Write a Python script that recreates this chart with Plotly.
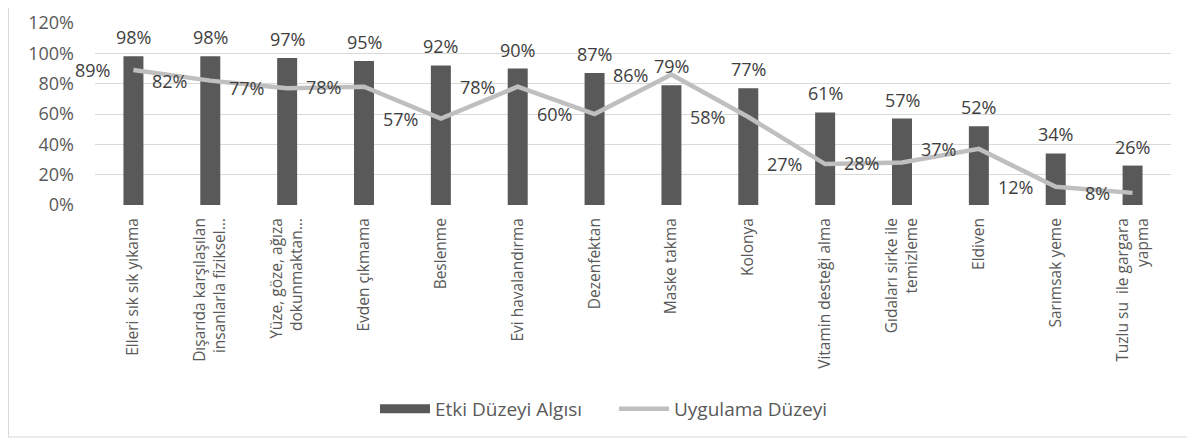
import plotly.graph_objects as go

categories = [
    "Elleri sık sık yıkama",
    "Dışarıda karşılaşılan<br>insanlarla fiziksel...",
    "Yüze, göze, ağıza<br>dokunmaktan...",
    "Evden çıkmama",
    "Beslenme",
    "Evi havalandırma",
    "Dezenfektan",
    "Maske takma",
    "Kolonya",
    "Vitamin desteği alma",
    "Gıdaları sirke ile<br>temizleme",
    "Eldiven",
    "Sarımsak yeme",
    "Tuzlu su  ile gargara<br>yapma",
]
etki = [98, 98, 97, 95, 92, 90, 87, 79, 77, 61, 57, 52, 34, 26]
uygulama = [89, 82, 77, 78, 57, 78, 60, 86, 58, 27, 28, 37, 12, 8]
y_ticks = [0, 20, 40, 60, 80, 100, 120]

FONT = "Open Sans"
BAR_COLOR = "#595959"
LINE_COLOR = "#BFBFBF"
TEXT_COLOR = "#404040"
AXIS_TEXT = "#595959"

fig = go.Figure()
fig.add_trace(go.Bar(
    x=categories, y=etki, name="Etki Düzeyi Algısı", showlegend=False,
    marker=dict(color=BAR_COLOR, line=dict(width=0)),
))
# legend entry with a wide swatch for the bars
fig.add_trace(go.Scatter(
    x=[None], y=[None], name="Etki Düzeyi Algısı", mode="lines",
    line=dict(color=BAR_COLOR, width=9),
))
fig.add_trace(go.Scatter(
    x=categories, y=uygulama, name="Uygulama Düzeyi", mode="lines",
    line=dict(color=LINE_COLOR, width=4.5),
))

annotations = []
for c, v in zip(categories, etki):
    annotations.append(dict(
        x=c, y=v, text=f"{v}%", showarrow=False, xref="x", yref="y",
        yanchor="middle", xanchor="center", yshift=19,
        font=dict(family=FONT, size=18, color=TEXT_COLOR),
    ))
for c, v in zip(categories, uygulama):
    annotations.append(dict(
        x=c, y=v, text=f"{v}%", showarrow=False, xref="x", yref="y",
        yanchor="middle", xanchor="right", xshift=-21,
        font=dict(family=FONT, size=18, color=TEXT_COLOR),
    ))

# page has an 8px body margin, so figure coords = page coords - 8
OFF = 8
W, H = 1195 - OFF, 439 - OFF
L, R, T, B = 95 - OFF, 24, 23 - OFF, 234
pw, ph = W - L - R, H - T - B


def px_x(p):
    return (p - OFF - L) / pw


def px_y(p):
    return (H - B - (p - OFF)) / ph


fig.update_layout(
    width=W, height=H,
    margin=dict(l=L, r=R, t=T, b=B, autoexpand=False),
    paper_bgcolor="white", plot_bgcolor="white",
    font=dict(family=FONT, color=AXIS_TEXT),
    bargap=0.74,
    showlegend=True,
    legend=dict(
        orientation="h", x=px_x(375), xanchor="left", y=px_y(409), yanchor="middle",
        font=dict(family=FONT, size=19, color=AXIS_TEXT),
        itemwidth=50, entrywidth=174, entrywidthmode="pixels",
        tracegroupgap=0, bgcolor="rgba(0,0,0,0)",
    ),
    annotations=annotations,
    shapes=[
        dict(type="line", xref="paper", yref="paper",
             x0=px_x(OFF + 0.5), x1=px_x(OFF + 0.5), y0=px_y(437), y1=px_y(OFF),
             line=dict(color="#D9D9D9", width=1), layer="below"),
        dict(type="line", xref="paper", yref="paper",
             x0=px_x(OFF), x1=px_x(1200), y0=px_y(437), y1=px_y(437),
             line=dict(color="#D9D9D9", width=1), layer="below"),
    ],
)
fig.update_xaxes(
    type="category", range=[-0.5, len(categories) - 0.5],
    tickangle=-90, showgrid=False, showline=False, zeroline=False,
    ticks="", ticklabelstandoff=9,
    tickfont=dict(family=FONT, size=15.5, color=AXIS_TEXT),
)
fig.update_yaxes(
    range=[0, 120], tickvals=y_ticks, ticktext=[f"{t}%" for t in y_ticks],
    showgrid=True, gridcolor="#D9D9D9", gridwidth=1, zeroline=False, showline=False,
    ticks="", ticklabelstandoff=20,
    tickfont=dict(family=FONT, size=18, color=AXIS_TEXT),
)

fig.write_html("out.html")
